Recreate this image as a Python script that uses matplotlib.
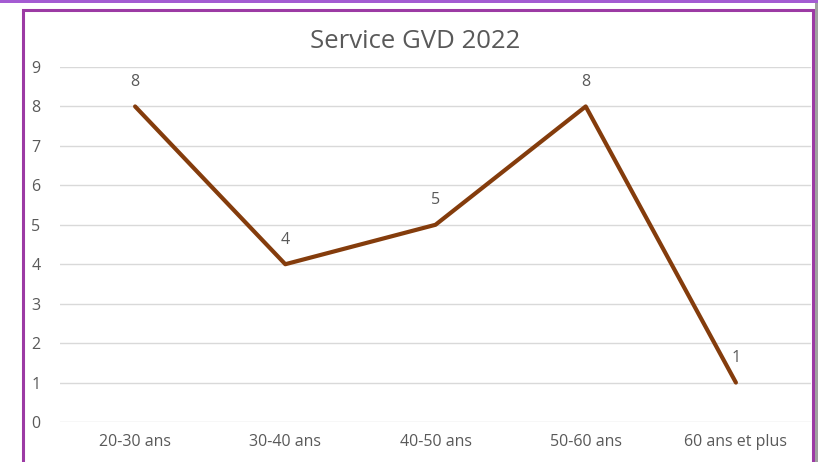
import matplotlib
matplotlib.use("Agg")
import matplotlib.pyplot as plt
from matplotlib.patches import Rectangle

# ---------------------------------
# DATA
# ---------------------------------

categories = ["20-30 ans", "30-40 ans", "40-50 ans", "50-60 ans", "60 ans et plus"]
values = [8, 4, 5, 8, 1]
yticks = list(range(0, 10))

TEXT = "#595959"
LINE = "#843c0c"

plt.rcParams["font.family"] = ["Open Sans", "DejaVu Sans"]

W, H = 818, 462
fig = plt.figure(figsize=(W / 100, H / 100), dpi=100)

# frame around the chart
fig.patches.append(Rectangle((0, 1 - 3 / H), 1, 3 / H, transform=fig.transFigure,
                             facecolor="#a45bd2", edgecolor="none", zorder=5))
fig.patches.append(Rectangle((22.5 / W, -0.1), 790 / W, (462 - 10 + 46) / H,
                             transform=fig.transFigure, facecolor="none",
                             edgecolor="#9c3aa4", linewidth=2.2))
fig.patches.append(Rectangle((815 / W, 0), 3 / W, 1, transform=fig.transFigure,
                             facecolor="#a0a0a0", edgecolor="none"))

ax = fig.add_axes([60 / W, 1 - 422 / H, 751 / W, 355 / H])

x = list(range(len(categories)))
ax.plot(x, values, color=LINE, linewidth=3.0, solid_capstyle="round")
for xi, v in zip(x, values):
    ax.annotate(str(v), (xi, v), xytext=(0, 12), textcoords="offset points",
                ha="center", va="bottom", fontsize=11.5, color=TEXT)

ax.set_xlim(-0.5, len(categories) - 0.5)
ax.set_ylim(0, 9)
ax.set_xticks(x)
ax.set_xticklabels(categories)
ax.set_yticks(yticks)
ax.tick_params(length=0, labelsize=11.5, labelcolor=TEXT)
ax.tick_params(axis="x", pad=9)
ax.tick_params(axis="y", pad=14)
ax.grid(axis="y", color="#d9d9d9", linewidth=1)
ax.set_axisbelow(True)
for s in ax.spines.values():
    s.set_visible(False)

fig.text(415 / W, 1 - 41 / H, "Service GVD 2022", ha="center", va="center",
         fontsize=18.5, color=TEXT)

fig.savefig("out.png", dpi=100)
